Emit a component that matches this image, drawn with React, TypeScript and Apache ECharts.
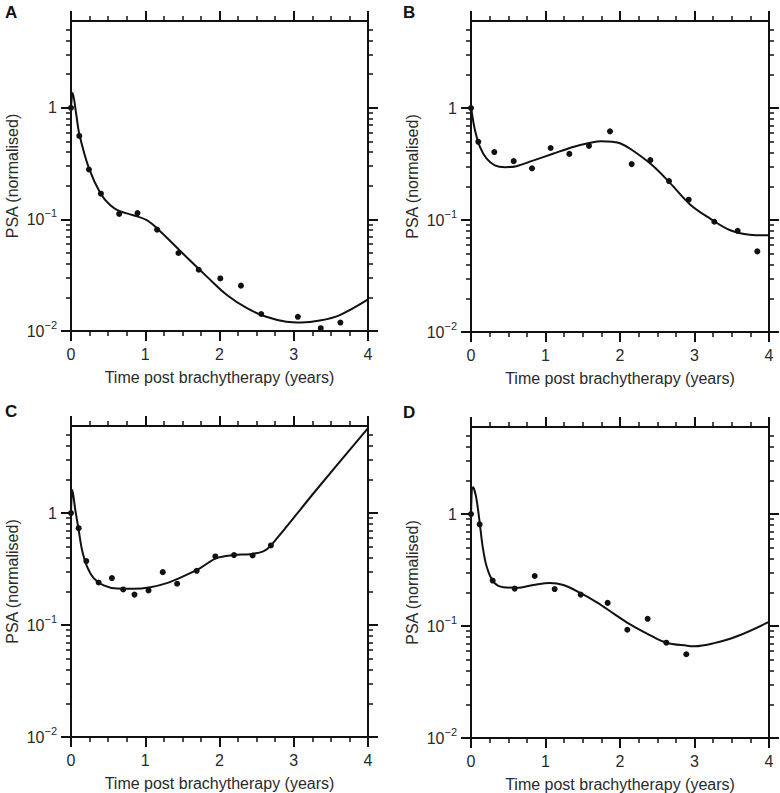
import React, { useEffect, useRef } from "react";
import * as echarts from "echarts";

// ---- Panel A ----
const tA = [0, 0.112, 0.242, 0.403, 0.649, 0.896, 1.16, 1.447, 1.72, 2.011, 2.289, 2.562, 3.055, 3.364, 3.628];
const yA = [1.0, 0.56, 0.28, 0.17, 0.112, 0.114, 0.081, 0.05, 0.0354, 0.0296, 0.0255, 0.0142, 0.0134, 0.0106, 0.0119];
const ctA = [0, 0.022, 0.07, 0.11, 0.24, 0.4, 0.53, 0.65, 0.84, 1.02, 1.16, 1.38, 1.6, 1.83, 2.1, 2.37, 2.63, 2.9, 3.1, 3.35, 3.62, 4];
const cyA = [1.0, 1.36, 0.88, 0.59, 0.29, 0.17, 0.134, 0.119, 0.109, 0.0986, 0.083, 0.06, 0.043, 0.0307, 0.021, 0.016, 0.0134, 0.0121, 0.0119, 0.0124, 0.0139, 0.0192];

// ---- Panel B ----
const tB = [0, 0.098, 0.313, 0.573, 0.819, 1.069, 1.32, 1.584, 1.866, 2.157, 2.407, 2.658, 2.922, 3.266, 3.579, 3.843];
const yB = [1.0, 0.5, 0.405, 0.336, 0.29, 0.44, 0.39, 0.46, 0.62, 0.316, 0.343, 0.223, 0.152, 0.0966, 0.08, 0.0525];
const ctB = [0, 0.054, 0.12, 0.21, 0.32, 0.456, 0.61, 0.84, 1.1, 1.37, 1.6, 1.75, 1.9, 2.0, 2.157, 2.43, 2.67, 2.94, 3.21, 3.48, 3.74, 4];
const cyB = [1.03, 0.63, 0.45, 0.353, 0.308, 0.297, 0.303, 0.341, 0.391, 0.449, 0.49, 0.507, 0.5, 0.485, 0.425, 0.31, 0.215, 0.138, 0.103, 0.081, 0.074, 0.073];

// ---- Panel C ----
const tC = [0, 0.103, 0.206, 0.372, 0.551, 0.703, 0.855, 1.044, 1.236, 1.429, 1.693, 1.944, 2.195, 2.446, 2.692];
const yC = [1.0, 0.734, 0.373, 0.24, 0.263, 0.208, 0.187, 0.204, 0.297, 0.234, 0.305, 0.41, 0.422, 0.418, 0.514];
const ctC = [0, 0.018, 0.058, 0.103, 0.148, 0.215, 0.305, 0.44, 0.62, 0.84, 1.07, 1.29, 1.51, 1.74, 1.96, 2.19, 2.41, 2.59, 2.7, 3.3, 4];
const cyC = [1.0, 1.61, 1.07, 0.71, 0.47, 0.334, 0.263, 0.226, 0.212, 0.211, 0.218, 0.237, 0.272, 0.323, 0.396, 0.422, 0.43, 0.455, 0.52, 1.6, 5.74];

// ---- Panel D ----
const tD = [0, 0.116, 0.291, 0.586, 0.855, 1.123, 1.472, 1.834, 2.098, 2.371, 2.622, 2.89];
const yD = [1.0, 0.81, 0.255, 0.216, 0.28, 0.214, 0.191, 0.161, 0.0927, 0.116, 0.071, 0.056];
const ctD = [0, 0.027, 0.067, 0.112, 0.157, 0.21, 0.3, 0.434, 0.613, 0.837, 1.06, 1.24, 1.46, 1.69, 1.91, 2.13, 2.4, 2.62, 2.9, 3.0, 3.25, 3.57, 4];
const cyD = [1.0, 1.75, 1.44, 0.89, 0.51, 0.34, 0.249, 0.222, 0.22, 0.233, 0.243, 0.233, 0.199, 0.163, 0.13, 0.104, 0.083, 0.071, 0.0667, 0.066, 0.07, 0.081, 0.109];

const panelLabels = ["A", "B", "C", "D"];
const xTitle = "Time post brachytherapy (years)";
const yTitle = "PSA (normalised)";
const yMajorTicks = [0.01, 0.1, 1];
const yMinorTicks = [0.02, 0.03, 0.04, 0.05, 0.06, 0.07, 0.08, 0.09, 0.2, 0.3, 0.4, 0.5, 0.6, 0.7, 0.8, 0.9, 2, 3, 4, 5];

const panels = [
  { t: tA, y: yA, ct: ctA, cy: cyA },
  { t: tB, y: yB, ct: ctB, cy: cyB },
  { t: tC, y: yC, ct: ctC, cy: cyC },
  { t: tD, y: yD, ct: ctD, cy: cyD },
];

const grids = [
  { left: 71, top: 21, width: 297, height: 310 },
  { left: 471, top: 21, width: 298, height: 311 },
  { left: 71, top: 426, width: 297, height: 311 },
  { left: 471, top: 427, width: 298, height: 311 },
];
const letterPos = [
  { left: 5, top: 4 },
  { left: 403, top: 4 },
  { left: 5, top: 403 },
  { left: 403, top: 404 },
];

const INK = "#111";
const TXT = "#2a2a2a";
const FONT = "'Liberation Sans', Arial, Helvetica, sans-serif";

export default function App() {
  const ref = useRef<HTMLDivElement>(null);
  useEffect(() => {
    document.body.style.margin = "0";
    const chart = echarts.init(ref.current!, null, { renderer: "svg" });
    const xAxis: any[] = [];
    const yAxis: any[] = [];
    const series: any[] = [];
    panels.forEach((p, i) => {
      const line = { lineStyle: { color: INK, width: 2 } };
      ["bottom", "top"].forEach((pos) => {
        xAxis.push({
          gridIndex: i,
          type: "value",
          position: pos,
          min: 0,
          max: 4,
          interval: 1,
          axisLine: { show: true, onZero: false, ...line },
          axisTick: { show: true, inside: false, length: 10, lineStyle: { color: INK, width: 2 } },
          minorTick: { show: true, splitNumber: 4, length: 5, lineStyle: { color: INK, width: 1.5 } },
          splitLine: { show: false },
          minorSplitLine: { show: false },
          axisLabel: {
            show: pos === "bottom",
            margin: 15,
            fontSize: 16,
            color: TXT,
            fontFamily: FONT,
          },
          name: pos === "bottom" ? xTitle : "",
          nameLocation: "middle",
          nameGap: 38,
          nameTextStyle: { fontSize: 16, color: TXT, fontFamily: FONT },
        });
      });
      ["left", "right"].forEach((pos) => {
        [true, false].forEach((major) => {
          yAxis.push({
            gridIndex: i,
            type: "log",
            logBase: 10,
            position: pos,
            min: 0.01,
            max: 6,
            axisLine: { show: true, onZero: false, ...line },
            axisTick: {
              show: true,
              inside: false,
              length: major ? 10 : 5,
              customValues: major ? yMajorTicks : yMinorTicks,
              lineStyle: { color: INK, width: major ? 2 : 1.5 },
            },
            minorTick: { show: false },
            splitLine: { show: false },
            axisLabel: {
              show: pos === "left" && major,
              customValues: yMajorTicks,
              margin: 14,
              fontSize: 16,
              color: TXT,
              fontFamily: FONT,
              formatter: (v: number) => {
                const e = Math.round(Math.log10(v));
                return e === 0 ? "{one|1}" : `{b|10}{s|\u2212${-e}}`;
              },
              rich: {
                one: { fontSize: 16, lineHeight: 24, color: TXT, fontFamily: FONT },
                b: { fontSize: 16, lineHeight: 24, color: TXT, fontFamily: FONT, verticalAlign: "middle" },
                s: { fontSize: 11, lineHeight: 12, color: TXT, fontFamily: FONT, verticalAlign: "top" },
              },
            },
            name: pos === "left" && major ? yTitle : "",
            nameLocation: "middle",
            nameGap: 51,
            nameTextStyle: { fontSize: 16, color: TXT, fontFamily: FONT },
          });
        });
      });
      const yIdx = i * 4;
      series.push({
        type: "line",
        xAxisIndex: i * 2,
        yAxisIndex: yIdx,
        data: p.ct.map((t, k) => [t, p.cy[k]]),
        showSymbol: false,
        smooth: 0.35,
        lineStyle: { color: INK, width: 2 },
        silent: true,
      });
      series.push({
        type: "scatter",
        xAxisIndex: i * 2,
        yAxisIndex: yIdx,
        data: p.t.map((t, k) => [t, p.y[k]]),
        symbolSize: 6,
        itemStyle: { color: INK, opacity: 1 },
        silent: true,
      });
    });
    chart.setOption({
      animation: false,
      backgroundColor: "#fff",
      title: panelLabels.map((l, i) => ({
        text: l,
        left: letterPos[i].left,
        top: letterPos[i].top,
        padding: 0,
        textStyle: { fontSize: 17, fontWeight: "bold", color: "#111", fontFamily: FONT },
      })),
      grid: grids.map((g) => ({ ...g, containLabel: false })),
      xAxis,
      yAxis,
      series,
    });
    return () => chart.dispose();
  }, []);
  return <div ref={ref} style={{ width: 780, height: 793 }} />;
}
